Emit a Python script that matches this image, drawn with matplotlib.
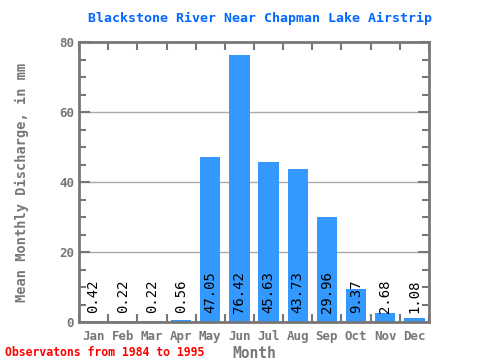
import matplotlib
matplotlib.use("Agg")
import matplotlib.pyplot as plt
import numpy as np

months = ["Jan", "Feb", "Mar", "Apr", "May", "Jun", "Jul", "Aug", "Sep", "Oct", "Nov", "Dec"]
values = [0.42, 0.22, 0.22, 0.56, 47.05, 76.42, 45.63, 43.73, 29.96, 9.37, 2.68, 1.08]
labels = ["0.42", "0.22", "0.22", "0.56", "47.05", "76.42", "45.63", "43.73", "29.96", "9.37", "2.68", "1.08"]

font = "DejaVu Sans Mono"
gray = "#777777"

fig = plt.figure(figsize=(4.8, 3.6), dpi=100)
ax = fig.add_axes([79/480, 1-322/360, 350/480, 280/360])

x = np.arange(len(months))
ax.bar(x, values, width=0.7, color="#3399ff", zorder=2)
for xi, lab in zip(x, labels):
    ax.text(xi, 2.5, lab, rotation=90, ha="center", va="bottom",
            family=font, fontsize=10, color="black", zorder=3)

ax.set_xlim(-0.5, 11.5)
ax.set_ylim(0, 80)
ax.set_yticks([0, 20, 40, 60, 80])
ax.set_yticks(np.arange(0, 81, 5), minor=True)
ax.set_xticks(x)
ax.set_xticklabels(months)
ax.set_xticks(np.arange(-0.5, 12, 1), minor=True)
for yv in [20, 40, 60]:
    ax.axhline(yv, color="#aaaaaa", lw=1, zorder=1)

ax.tick_params(axis="both", which="both", direction="in", color=gray,
               top=True, right=True, width=1.5)
ax.tick_params(axis="x", which="major", length=0, pad=6)
ax.tick_params(axis="x", which="minor", length=6)
ax.tick_params(axis="y", which="major", length=8)
ax.tick_params(axis="y", which="minor", length=5)
for lab in ax.get_xticklabels() + ax.get_yticklabels():
    lab.set_family(font)
    lab.set_fontweight("bold")
    lab.set_color(gray)
    lab.set_fontsize(9)
for s in ax.spines.values():
    s.set_color(gray)
    s.set_linewidth(2)

ax.set_xlabel("Month", family=font, fontweight="bold", color=gray, fontsize=10.5, labelpad=2)
ax.set_ylabel("Mean Monthly Discharge, in mm", family=font, fontweight="bold",
              color=gray, fontsize=9.8, labelpad=22)
fig.text(260/480, 1-18/360, "Blackstone River Near Chapman Lake Airstrip", ha="center",
         va="center", family=font, fontweight="bold", color="#0066ff", fontsize=9.5)
fig.text(5/480, 1-352/360, "Observatons from 1984 to 1995", ha="left", va="center",
         family=font, fontweight="bold", color="red", fontsize=8.3)

fig.savefig("out.png", dpi=100)
